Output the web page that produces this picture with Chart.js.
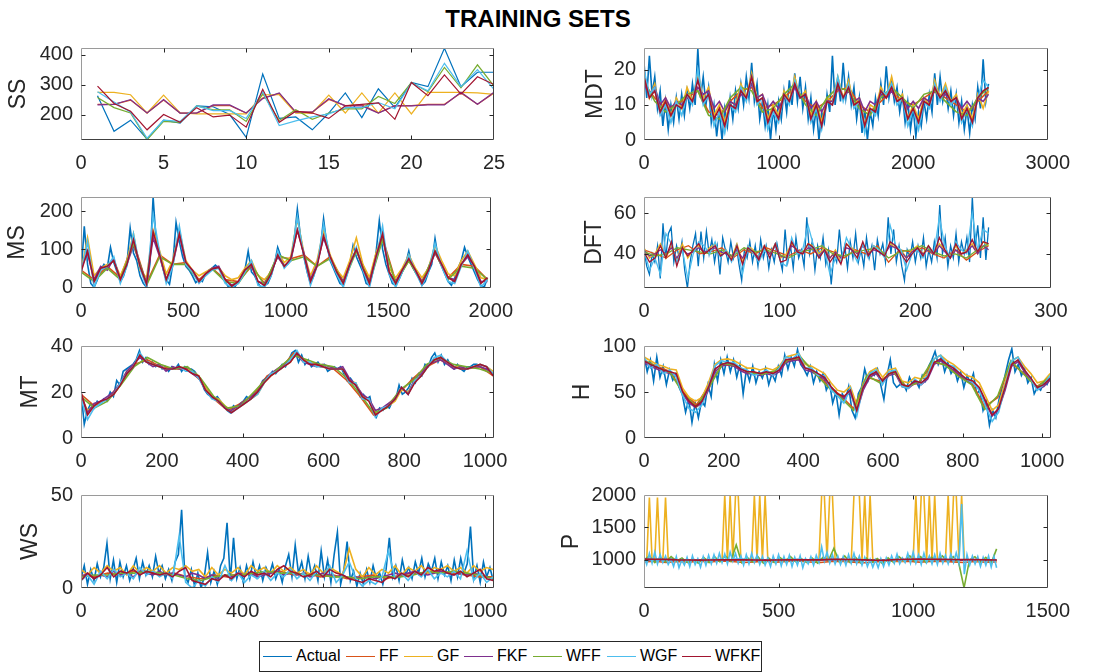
<!DOCTYPE html>
<html>
<head>
<meta charset="utf-8">
<title>Training sets</title>
<script src="https://cdn.jsdelivr.net/npm/chart.js@4.4.1/dist/chart.umd.min.js"></script>
<style>
    html, body { margin: 0; padding: 0; background: #fff; }
    #fig { position: relative; width: 1109px; height: 672px; overflow: hidden; font-family: "Liberation Sans", Arial, sans-serif; }
    #title { position: absolute; left: 0; width: 1076px; top: 5px; text-align: center; font-weight: bold; font-size: 24px; color: #000; }
    #legend { position: absolute; left: 259px; top: 641px; width: 503px; height: 31px; box-sizing: border-box; border: 1px solid #262626; background: #fff; }
    .lg-line { position: absolute; top: 14px; width: 29px; height: 0; border-top: 1px solid; }
    .lg-text { position: absolute; top: 5px; font-size: 16px; color: #000; white-space: nowrap; }
</style>
</head>
<body>
<div id="fig">
    <div id="title">TRAINING SETS</div>
    <div id="legend"></div>
</div>
<script>
// Series names and MATLAB default colours
const SERIES_NAMES = ['Actual', 'FF', 'GF', 'FKF', 'WFF', 'WGF', 'WFKF'];
const SERIES_COLORS = ['#0072BD', '#D95319', '#EDB120', '#7E2F8E', '#77AC30', '#4DBEEE', '#A2142F'];

// ---- SS (25 samples) ----
const ssActual = [263,144,181,118,181,171,229,226,200,124, 335,187,192,149,205,272,190,286,223,307, 293,421,293,341,341];
const ssFF     = [234,234,248,205,248,205,205,230,230,205, 255,270,208,208,250,230,232,206,230,230, 234,234,272,234,272];
const ssGF     = [274,274,266,205,265,205,202,202,202,202, 266,266,205,205,265,205,272,205,272,202, 274,274,274,272,267];
const ssFKF    = [232,234,250,205,250,205,205,232,232,205, 253,272,208,208,253,229,229,205,229,229, 232,232,274,234,274];
const ssWFF    = [257,223,205,116,177,174,229,216,216,177, 270,180,216,184,205,219,219,260,237,307, 276,357,289,366,295];
const ssWGF    = [276,242,208,121,181,177,229,213,213,187, 276,163,179,192,202,223,223,240,219,305, 279,371,293,350,284];
const ssWFKF   = [295,237,211,149,200,174,223,192,198,158, 284,174,211,205,187,229,234,239,184,307, 263,332,268,326,300];
const ssXTicks = [0, 5, 10, 15, 20, 25];
const ssYTicks = [200, 300, 400];

// ---- MDT ----
const mdtActual = [22,12,24,13,18,9,14,4,11,3, 10,5,12,6,13,7,14,9,16,10,
    26,12,18,10,15,5,10,1,8,0, 9,4,12,6,14,9,16,10,18,12,
    22,11,16,6,11,4,10,0,9,3, 11,6,14,8,17,10,19,11,18,9,
    15,6,12,3,9,0,8,5,13,8, 24,10,17,11,22,12,18,10,15,6,
    12,2,9,0,8,4,12,7,16,10, 21,12,17,11,15,8,13,5,11,3,
    9,1,8,4,11,6,13,8,19,10, 18,11,15,9,14,7,13,5,11,3,
    9,2,10,6,15,9,23,11,16];
const mdtFF   = [16,12,9,10,12,14,8,7,11,14, 15,9,10,12,15,11,9,11,14,15, 10,8,11,14,11,10,12,14,12,10, 8,11,14];
const mdtGF   = [19,12,16,8,12,7,12,9,15,11, 19,12,15,7,10,5,11,10,16,12, 19,12,13,6,10,7,14,11,18,12,
    14,7,11,5,12,11,18,12,17,10, 12,4,10,9,15,12,18,11,13,6, 10,6,12,10,17,12,16,11,13,7, 10,6,13,9,14];
const mdtFKF  = [16,13,15,10,12,9,11,10,12,11, 15,13,14,9,11,8,11,10,13,12, 16,12,13,9,11,9,12,11,15,12,
    13,9,11,8,11,11,15,12,14,11, 12,8,11,10,13,12,14,11,12,9, 11,9,12,11,14,12,13,11,12,9, 11,9,12,11,13];
const mdtWFF  = [17,11,8,10,13,14,7,6,12,15, 14,8,9,13,16,10,7,12,15,14, 9,7,12,15,12,9,13,14,11,8, 7,12,15];
const mdtWGF  = [20,13,15,7,10,5,11,7,13,10, 20,10,13,4,8,2,10,8,15,11, 18,10,12,3,8,5,13,10,17,12,
    13,5,9,3,11,10,18,11,16,9, 11,2,9,7,14,13,16,10,12,4, 9,3,11,9,16,11,15,10,12,5, 9,4,12,17,15];
const mdtWFKF = [18,12,14,8,11,7,10,9,13,11, 17,11,13,6,9,4,10,9,14,12, 18,11,12,5,9,6,13,11,16,12,
    13,6,10,4,11,10,16,12,15,10, 11,4,9,8,14,12,15,11,12,6, 9,5,11,10,15,12,14,11,12,6, 9,5,12,14,15];
const mdtXTicks = [0, 1000, 2000, 3000];
const mdtYTicks = [0, 10, 20];

// ---- MS ----
const msActual = [30,160,60,10,0,20,45,60,50,105, 65,40,15,30,60,155,90,70,30,10,
    0,60,237,110,90,50,20,8,60,170, 120,80,55,45,30,12,20,15,35,45,
    50,58,50,40,15,0,5,2,15,30, 45,95,40,30,10,0,5,10,30,60,
    105,80,55,60,70,120,205,130,80,40, 10,30,60,100,180,110,70,50,30,10,
    5,30,60,110,80,60,40,10,5,40, 90,175,100,60,35,10,5,20,40,60,
    95,55,40,25,5,15,40,60,128,75, 55,35,15,5,25,50,70,105,80,60,
    40,20,5,0,25];
const msFF   = [45,20,55,25,120,10,85,60,65,20, 50,20,15,55,10,80,75,85,55,80, 15,100,15,130,15,70,15,90,25,60, 55,20];
const msGF   = [40,130,30,50,60,70,30,70,140,45, 25,150,95,35,70,150,70,45,30,40, 50,52,30,20,25,50,70,30,20,40,
    90,65,80,180,90,30,70,150,85,45, 25,70,130,60,25,90,140,50,25,50, 85,50,25,50,110,70,35,30,70,95, 60,25,20];
const msFKF  = [50,90,20,55,45,75,20,60,110,60, 10,130,80,20,60,140,60,45,15,35, 50,55,20,5,15,45,55,15,10,40,
    80,55,70,150,90,20,60,130,80,40, 15,60,100,50,15,80,135,40,15,45, 70,45,15,45,90,60,25,20,60,80, 55,15,15];
const msWFF  = [40,15,50,20,115,5,80,60,60,15, 48,15,10,60,5,85,70,80,55,75, 10,95,10,125,10,70,10,95,20,55, 50,20];
const msWGF  = [35,120,0,45,55,80,10,55,140,50, 0,190,90,10,55,160,60,40,10,30, 45,50,10,0,10,40,70,5,0,30,
    95,50,70,185,80,5,55,165,75,35, 0,55,105,45,0,75,160,35,0,40, 85,40,5,40,115,55,15,10,55,95, 50,0,20];
const msWFKF = [40,95,15,50,55,70,20,60,125,55, 8,145,85,20,65,140,65,45,15,35, 48,52,20,3,15,45,60,15,5,35,
    85,55,75,150,85,15,55,135,80,40, 10,60,100,50,10,80,140,40,10,45, 75,45,10,45,95,60,25,15,60,85, 55,10,25];
const msXTicks = [0, 500, 1000, 1500, 2000];
const msYTicks = [0, 100, 200];

// ---- DFT ----
const dftActual = [42,34,30,40,36,44,28,55,38,50, 53,36,44,38,46,32,23.3,36,44,50,
    34,51,38,51,40,47,36,44,30,48, 42,36,46,38,44,35,27,42,38,46,
    36,44,34,47,38,44,33,42,36,45, 38,32,52,36,44,33,48,38,42,34,
    58,40,46,32,44,38,48,35,42,25, 40,36,52,38,44,33,46,38,50,36,
    42,34,48,38,44,32,47,40,45,36, 58,40,52,36,44,34,27,42,38,46,
    36,44,38,48,34,42,36,46,38,64, 40,48,34,44,38,50,36,46,40,48,
    36,68,42,54,38,58,37,53];
const dftFF   = [42,40,38,42,44,40,41,43,38,42, 40,43,41,39,42,40,43,41,38,42, 40,44,36,42,41,43,40,38,42,37, 41,44];
const dftGF   = [43,38,40,45,38,44,37,45,38,42, 44,40,43,45,40,42,38,45,36,44, 42,38,44,40,45,38,40,45,42,40,
    45,44,40,43,38,42,36,45,43,40, 45,40,44,42,40,45,43,42,38,42, 44,40,44,40,45,42,38,44,40,42, 45,40,46,44];
const dftFKF  = [42,39,40,42,40,43,38,42,40,41, 43,41,42,43,41,40,39,42,38,42, 41,38,43,40,44,39,38,44,42,40,
    43,42,39,42,38,41,38,43,42,40, 44,40,42,41,40,44,43,41,38,41, 43,40,42,40,44,41,38,42,40,41, 44,40,44,42];
const dftWFF  = [41,39,40,43,42,41,40,42,39,43, 41,42,40,38,41,42,44,40,39,41, 42,43,38,41,42,44,41,39,40,38, 42,45];
const dftWGF  = [42,32,38,30,50,45,36,42,28,40, 46,44,40,46,38,42,36,44,30,44, 40,36,42,38,45,36,34,48,40,42,
    54,44,38,42,30,38,36,48,42,36, 45,38,44,42,38,54,44,42,32,40, 42,38,44,40,58,44,38,46,42,40, 60,42,52,50];
const dftWFKF = [41,36,38,44,38,46,34,43,39,42, 45,40,42,44,39,41,37,44,35,43, 41,37,44,38,45,36,37,46,41,40,
    45,43,38,42,36,40,35,45,42,38, 46,39,43,41,39,46,44,40,36,40, 43,39,44,40,48,42,38,45,40,41, 47,41,46,45];
const dftXTicks = [0, 100, 200, 300];
const dftYTicks = [40, 60];

// ---- MT ----
const mtActual = [20,6,12,15,13,16,15,17,16,20, 18,25,23,29,30,31,32,34,38,33,
    35,32,33,31,32,30,31,29,31,30, 32,29,31,30,30,29,27,25,21,19,
    18,17,18,16,14,12,11,14,13,15, 16,18,17,19,20,22,25,26,27,29,
    28,30,32,31,34,37,38,33,36,32, 34,31,32,33,31,32,29,30,31,30,
    31,28,25,26,24,22,18,19,17,18, 11,9,13,12,14,13,16,17,23,19,
    20,22,26,24,28,27,32,31,35,37, 33,36,32,34,31,30,32,30,29,31,
    31,32,32,31,30,30,29,27];
const mtFF   = [19,14,17,24,32,34,31,30,30,25, 17,12,15,19,27,30,37,33,31,30, 25,18,10,14,20,26,31,34,31,30, 31,27];
const mtGF   = [18,12,14,16,17,19,23,29,31,36, 33,32,31,30,30,31,30,29,27,22, 18,17,14,12,13,15,17,19,24,27,
    29,31,33,37,34,33,32,31,30,30, 30,25,24,18,17,11,12,14,16,21, 20,25,27,31,34,35,33,31,31,30, 31,32,31,29];
const mtFKF  = [19,11,15,16,18,20,24,29,32,35, 33,31,32,29,31,30,30,28,26,21, 18,16,13,12,14,16,18,20,25,28,
    30,32,34,36,33,32,31,32,31,30, 31,26,23,19,17,12,13,15,17,22, 19,26,28,32,33,34,32,30,31,30, 31,31,30,28];
const mtWFF  = [18,13,16,23,31,35,32,30,31,26, 18,13,14,20,26,31,36,34,32,31, 26,19,11,13,21,25,32,35,32,31, 30,28];
const mtWGF  = [17,8,13,15,17,19,24,28,31,37, 33,32,31,30,30,31,29,29,26,21, 17,16,13,11,13,15,17,19,24,28,
    29,31,34,38,33,33,31,31,30,30, 30,24,24,17,17,9,13,14,17,22, 19,25,27,31,35,36,33,31,30,30, 31,32,31,28];
const mtWFKF = [20,10,14,16,17,19,23,28,31,36, 33,32,31,30,30,31,30,28,27,21, 18,16,13,11,13,15,17,20,24,27,
    29,31,33,37,34,32,32,31,30,30, 30,25,23,18,16,10,12,14,17,22, 19,24,27,31,34,35,33,31,30,30, 31,32,31,27];
const mtXTicks = [0, 200, 400, 600, 800, 1000];
const mtYTicks = [0, 20, 40];

// ---- H ----
const hActual = [90,72,85,62,88,66,78,58,74,63, 70,55,47,28,42,17,38,22,40,35,
    58,45,80,62,85,70,88,72,85,66, 80,48,74,62,78,60,72,65,76,58,
    70,62,78,68,90,75,88,78,96,80, 75,68,78,60,72,62,70,52,60,38,
    50,25,48,42,56,30,22,48,55,75, 62,72,68,75,58,42,68,85,60,55,
    58,60,52,66,58,62,55,68,62,78, 85,94,80,88,72,82,70,76,62,72,
    55,68,60,70,48,52,30,40,14,30, 22,42,55,70,85,97,72,80,68,75,
    60,66,48,55,52,60,58,66];
const hFF   = [84,78,72,50,36,58,80,78,72,70, 72,84,86,72,58,46,32,66,62,72, 56,60,82,80,68,60,34,44,82,70, 56,66];
const hGF   = [88,84,80,78,75,74,54,44,40,44, 60,80,85,86,84,80,76,76,74,76, 74,78,88,90,92,80,78,74,70,60,
    52,50,56,36,60,72,76,66,74,76, 62,60,66,64,70,86,90,84,80,74, 68,66,60,45,30,36,60,84,88,78, 70,60,62,70];
const hFKF  = [82,78,75,72,70,68,48,38,33,38, 52,72,78,80,78,73,70,70,68,70, 68,72,82,84,85,74,72,68,64,54,
    46,43,50,29,52,66,70,60,68,70, 56,54,60,58,64,80,84,78,74,68, 62,60,53,38,24,31,52,78,83,72, 63,53,56,63];
const hWFF  = [85,77,71,48,34,56,81,79,71,69, 73,85,87,71,56,44,30,68,60,73, 55,61,84,79,67,58,31,46,84,69, 55,67];
const hWGF  = [88,76,80,70,74,66,46,32,28,36, 56,78,84,82,82,76,74,68,70,74, 68,76,88,86,92,76,76,68,68,52,
    46,38,54,24,56,70,74,58,72,74, 56,54,64,58,68,86,90,80,78,70, 64,60,52,34,18,28,56,84,88,74, 64,52,58,68];
const hWFKF = [84,80,77,74,72,70,50,40,34,40, 55,75,80,82,80,75,72,72,70,72, 70,74,85,86,88,76,74,70,66,56,
    48,45,52,30,55,68,72,62,70,72, 58,56,62,60,66,82,86,80,76,70, 64,62,55,40,25,32,55,80,85,74, 65,55,58,65];
const hXTicks = [0, 200, 400, 600, 800, 1000];
const hYTicks = [0, 50, 100];

// ---- WS ----
const wsActual = [5,12,2,10,4,13,6,11,24,5, 15,3,14,6,12,4,10,16,5,14,
    7,12,6,17,8,12,5,10,4,14, 18,42,6,3,10,1,8,0,6,19,
    3,9,2,12,16,35,4,27,5,11, 3,12,5,14,6,12,4,11,7,13,
    5,10,3,12,18,6,23,8,14,5, 17,7,12,4,20,6,15,3,18,30,
    2,10,25,4,9,1,8,2,10,3, 12,5,8,2,10,27,6,12,4,15,
    7,11,5,14,8,16,6,13,9,16, 5,14,7,12,4,15,6,16,8,13,
    33,5,12,3,14,6,11,4];
const wsFF   = [7,6,8,7,9,8,7,8,6,5, 7,6,8,7,8,9,7,8,6,7, 5,6,7,5,7,8,8,9,8,7, 6,6];
const wsGF   = [10,7,11,8,12,9,11,7,12,8, 11,9,12,8,11,10,12,9,10,6, 11,7,10,8,11,7,12,9,11,8,
    12,9,11,8,10,7,12,8,11,9, 7,21,10,6,11,7,10,8,12,7, 11,9,12,8,11,10,12,9,11,8, 12,9,11,10];
const wsFKF  = [6,8,5,7,6,9,7,8,6,9, 8,7,9,7,8,7,6,8,7,5, 7,5,7,6,8,7,8,6,7,8,
    9,7,8,7,8,6,7,8,7,6, 7,5,6,5,6,5,6,7,8,7, 8,9,8,7,8,9,8,7,8,7, 8,7,6,5];
const wsWFF  = [6,7,7,8,8,9,8,7,5,4, 6,7,7,8,9,8,8,7,7,6, 6,5,6,6,6,7,9,8,9,8, 7,5];
const wsWGF  = [4,7,2,9,5,10,6,8,5,11, 7,9,6,8,5,28,3,0,4,1, 6,3,12,4,8,3,7,5,9,4,
    8,6,10,5,8,4,9,6,12,3, 7,14,5,1,4,2,6,20,5,8, 4,9,6,10,5,8,6,9,5,20, 4,8,3,6];
const wsWFKF = [4,8,5,7,11,6,9,8,10,7, 9,8,7,8,6,9,11,4,3,2, 5,4,7,5,8,6,9,7,8,6,
    10,12,9,8,6,7,9,6,10,8, 7,5,4,3,5,4,3,6,5,8, 6,9,7,11,9,10,8,7,9,6, 8,10,5,4];
const wsXTicks = [0, 200, 400, 600, 800, 1000];
const wsYTicks = [0, 50];

// ---- P ----
const pActual = [1005,1010,1000,1012,998,1008,1002,995,1000,990,
    995,985,990,1000,1005,998,1002,1008,1010,1005,
    1000,995,1002,990,985,992,998,1000,1004,1000,
    995,1000,1008,1012,1010,1005,1000,996,990,985,
    990,995,1000,1005,998,992,988,985,990,998,
    1005,1010,1012,1008,1005,1000,998,995,1000,1002,
    998,995,990,992,995,998];
const pFF   = [970,980,960,975,965,980,970,985,975,960, 970,980,965,975,985,970,960,975,980,965,
    955,970,985,975,980,965,975,980,970,960, 975,965,970];
const pGF   = [1000,990,1960,1010,995,1960,1005,990,1960,1000,
    985,1000,990,1005,980,995,1000,990,1010,985,
    995,1000,990,1010,1000,985,995,1005,990,1000,
    2000,1000,2000,1000,2000,2000,990,1000,995,1005,
    990,2000,1000,2000,1000,2000,1000,995,1005,990,
    1000,985,995,1010,990,1000,985,1005,995,990,
    1000,990,1005,995,985,1000,2000,2000,1000,2000,
    2000,1000,995,1005,990,1000,995,985,2000,2000,
    2000,1000,2000,1000,2000,1000,990,1005,995,1000,
    985,995,1000,1010,990,1000,985,995,1005,990,
    1000,2000,1000,2000,2000,1000,2000,1000,2000,1000,
    995,1005,990,2000,1000,2000,2000,1000,2000,1000,
    990,1000,995,1005,985,1000,990,1005,995,1000,
    990,1000];
const pFKF  = [1000,1002,998,1000,995,998,1000,1003,1000,997, 995,998,1000,1002,1005,1003,1000,998,1000,1002,
    995,993,995,1000,1005,1003,1002,1000,998,996, 1000,998,995];
const pWFF  = [1000,1060,960,1040,970,1050,980,1030,960,1020,
    950,1040,960,1050,970,1060,980,1230,960,1040,
    970,1050,950,1030,960,1040,980,1050,970,1020,
    960,1030,950,1040,990,1180,970,1060,960,1040,
    950,1030,960,1020,940,1030,960,1050,980,1060,
    970,1050,960,1040,980,1060,970,1050,960,570,
    1000,1050,960,1040,950,1170];
const pWGF  = [1050,930,1100,950,1120,940,1080,960,1060,930,
    1010,900,1050,880,1000,920,1040,900,1060,930,
    1020,890,1050,920,1070,940,1080,950,1100,960,
    1090,940,1120,980,1100,950,1060,920,1080,940,
    1100,960,1070,930,1050,920,1030,900,1060,940,
    1080,910,1050,930,1070,900,1040,920,1060,880,
    1020,940,1050,920,1070,960,1200,980,1120,950,
    1080,940,1060,930,1050,920,1080,950,1100,940,
    1060,920,1040,900,1010,890,1000,880,1020,900,
    1030,920,1060,950,1090,940,1030,960,1100,950,
    1120,950,1080,930,1100,960,1060,940,1080,930,
    1100,950,1070,940,1090,960,1110,950,1860,780,
    1080,920,1060,940,1050,900,1040,920,1060,890,
    1050,880];
const pWFKF = [1012,1010,1008,1000,998,997,999,1000,1002,1000, 998,997,999,1001,1003,1000,1000,1008,1010,1006,
    1000,995,996,1005,1010,1012,1010,1008,1006,1004, 1005,1000,998];
const pXTicks = [0, 500, 1000, 1500];
const pYTicks = [1000, 1500, 2000];

// ---- Layout ----
const FONT = '"Liberation Sans", Arial, sans-serif';
const TEXT_COLOR = '#262626';
const COL_LEFT = [81, 644];
const COL_RIGHT = [494, 1051];
const ROW_TOP = [43, 192, 341, 490];
const ROW_BOTTOM = [140, 288, 438, 588];
const PAD_TOP = 15;
const PAD_RIGHT = 30;
const X_AXIS_H = 40;
const TITLE_SIZE = 23;
const TICK_SIZE = 20;
const TICK_LEN = 4;

const PANELS = [
    { title: 'SS',  col: 0, row: 0, titleX: 18.5, lw: 1.2, x: [0, 25],   y: [115, 422], span: [1, 25],   xTicks: ssXTicks,  yTicks: ssYTicks,
      series: [ssActual, ssFF, ssGF, ssFKF, ssWFF, ssWGF, ssWFKF] },
    { title: 'MDT', col: 1, row: 0, titleX: 596,  lw: 1.6, x: [0, 3000], y: [0, 26.2],  span: [0, 2560], xTicks: mdtXTicks, yTicks: mdtYTicks,
      series: [mdtActual, mdtFF, mdtGF, mdtFKF, mdtWFF, mdtWGF, mdtWFKF] },
    { title: 'MS',  col: 0, row: 1, titleX: 18,   lw: 1.6, x: [0, 2000], y: [-2, 237],  span: [0, 1984], xTicks: msXTicks,  yTicks: msYTicks,
      series: [msActual, msFF, msGF, msFKF, msWFF, msWGF, msWFKF] },
    { title: 'DFT', col: 1, row: 1, titleX: 595,  lw: 1.3, x: [0, 300],  y: [23.3, 67.9], span: [0, 254], xTicks: dftXTicks, yTicks: dftYTicks,
      series: [dftActual, dftFF, dftGF, dftFKF, dftWFF, dftWGF, dftWFKF] },
    { title: 'MT',  col: 0, row: 2, titleX: 31,   lw: 1.6, x: [0, 1022], y: [0, 40],    span: [0, 1020], xTicks: mtXTicks,  yTicks: mtYTicks,
      series: [mtActual, mtFF, mtGF, mtFKF, mtWFF, mtWGF, mtWFKF] },
    { title: 'H',   col: 1, row: 2, titleX: 583,  lw: 1.6, x: [0, 1022], y: [0, 100],   span: [0, 1020], xTicks: hXTicks,   yTicks: hYTicks,
      series: [hActual, hFF, hGF, hFKF, hWFF, hWGF, hWFKF] },
    { title: 'WS',  col: 0, row: 3, titleX: 31,   lw: 1.6, x: [0, 1022], y: [0, 50],    span: [0, 1020], xTicks: wsXTicks,  yTicks: wsYTicks,
      series: [wsActual, wsFF, wsGF, wsFKF, wsWFF, wsWGF, wsWFKF] },
    { title: 'P',   col: 1, row: 3, titleX: 572,  lw: 1.6, x: [0, 1500], y: [567, 2000], span: [0, 1310], xTicks: pXTicks,  yTicks: pYTicks,
      series: [pActual, pFF, pGF, pFKF, pWFF, pWGF, pWFKF] }
];

/**
 * MATLAB-like box with inward ticks on all four sides
 */
const matlabBox = {
    id: 'matlabBox',
    afterDraw(chart) {
        const { ctx, chartArea: a, scales } = chart;
        const L = Math.round(a.left) + 0.5;
        const R = Math.round(a.right) - 0.5;
        const T = Math.round(a.top) + 0.5;
        const B = Math.round(a.bottom) - 0.5;
        ctx.save();
        ctx.lineWidth = 1;

        // lighter top / left edge, darker bottom / right edge (as in the picture)
        ctx.strokeStyle = '#9a9a9a';
        ctx.beginPath();
        ctx.moveTo(L, B); ctx.lineTo(L, T); ctx.lineTo(R, T);
        ctx.stroke();
        ctx.strokeStyle = '#404040';
        ctx.beginPath();
        ctx.moveTo(L, B); ctx.lineTo(R, B); ctx.lineTo(R, T);
        ctx.stroke();

        ctx.strokeStyle = '#262626';
        ctx.beginPath();
        scales.x.ticks.forEach(t => {
            const px = Math.round(scales.x.getPixelForValue(t.value)) + 0.5;
            if (px <= L + 1 || px >= R - 1) return;
            ctx.moveTo(px, B); ctx.lineTo(px, B - TICK_LEN);
            ctx.moveTo(px, T); ctx.lineTo(px, T + TICK_LEN);
        });
        scales.y.ticks.forEach(t => {
            const py = Math.round(scales.y.getPixelForValue(t.value)) + 0.5;
            if (py <= T + 1 || py >= B - 1) return;
            ctx.moveTo(L, py); ctx.lineTo(L + TICK_LEN, py);
            ctx.moveTo(R, py); ctx.lineTo(R - TICK_LEN, py);
        });
        ctx.stroke();
        ctx.restore();
    }
};

function buildPanel(p) {
    const plotL = COL_LEFT[p.col], plotR = COL_RIGHT[p.col];
    const plotT = ROW_TOP[p.row], plotB = ROW_BOTTOM[p.row];
    const canvasLeft = Math.round(p.titleX - TITLE_SIZE * 1.2 / 2);
    const yWidth = plotL - canvasLeft;
    const w = plotR - canvasLeft + PAD_RIGHT;
    const h = PAD_TOP + (plotB - plotT) + X_AXIS_H;

    const canvas = document.createElement('canvas');
    canvas.width = w;
    canvas.height = h;
    canvas.style.cssText = `position:absolute;left:${canvasLeft}px;top:${plotT - PAD_TOP}px;width:${w}px;height:${h}px`;
    document.getElementById('fig').appendChild(canvas);

    const datasets = p.series.map((vals, k) => ({
        label: SERIES_NAMES[k],
        data: vals.map((v, i) => ({
            x: p.span[0] + i * (p.span[1] - p.span[0]) / (vals.length - 1),
            y: v
        })),
        borderColor: SERIES_COLORS[k],
        backgroundColor: SERIES_COLORS[k],
        borderWidth: p.lw,
        pointRadius: 0,
        tension: 0,
        fill: false,
        order: SERIES_NAMES.length - k   // last series on top, like MATLAB
    }));

    const tickFont = { family: FONT, size: TICK_SIZE };

    new Chart(canvas, {
        type: 'line',
        data: { datasets },
        options: {
            responsive: false,
            animation: false,
            events: [],
            layout: { padding: { top: PAD_TOP, right: PAD_RIGHT, left: 0, bottom: 0 } },
            plugins: { legend: { display: false }, tooltip: { enabled: false } },
            scales: {
                x: {
                    type: 'linear',
                    min: p.x[0],
                    max: p.x[1],
                    grid: { display: false, drawTicks: false },
                    border: { display: false },
                    ticks: { color: TEXT_COLOR, font: tickFont, padding: 11, maxRotation: 0, autoSkip: false,
                             callback: v => String(v) },
                    afterBuildTicks: s => { s.ticks = p.xTicks.map(v => ({ value: v })); },
                    afterFit: s => { s.height = X_AXIS_H; }
                },
                y: {
                    type: 'linear',
                    min: p.y[0],
                    max: p.y[1],
                    grid: { display: false, drawTicks: false },
                    border: { display: false },
                    ticks: { color: TEXT_COLOR, font: tickFont, padding: 8, autoSkip: false,
                             callback: v => String(v) },
                    title: { display: true, text: p.title, color: TEXT_COLOR,
                             font: { family: FONT, size: TITLE_SIZE }, padding: 0 },
                    afterBuildTicks: s => { s.ticks = p.yTicks.map(v => ({ value: v })); },
                    afterFit: s => { s.width = yWidth; }
                }
            }
        },
        plugins: [matlabBox]
    });
}

function buildLegend() {
    const legend = document.getElementById('legend');
    const lineStarts = [263, 346, 404, 464, 533, 607, 682];
    SERIES_NAMES.forEach((name, k) => {
        const x = lineStarts[k] - 260;
        const line = document.createElement('div');
        line.className = 'lg-line';
        line.style.left = x + 'px';
        line.style.borderTopColor = SERIES_COLORS[k];
        const text = document.createElement('div');
        text.className = 'lg-text';
        text.style.left = (x + 33) + 'px';
        text.textContent = name;
        legend.appendChild(line);
        legend.appendChild(text);
    });
}

PANELS.forEach(buildPanel);
buildLegend();
</script>
</body>
</html>
